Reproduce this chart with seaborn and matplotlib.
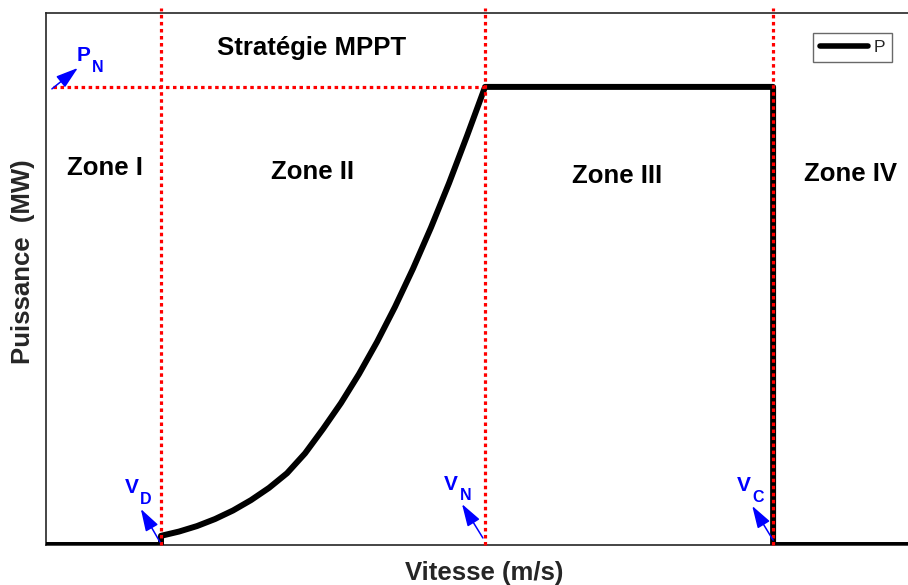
import matplotlib
matplotlib.use("Agg")
import matplotlib.pyplot as plt
import seaborn as sns
import pandas as pd

# Wind speeds (m/s) and electrical power (MW) of the turbine characteristic
v_d = 3.0    # cut-in speed
v_n = 12.0   # rated speed
v_c = 20.0   # cut-out speed
p_n = 1.5    # rated power

speed = [-0.2, 3.0, 3.0, 3.5, 4.0, 4.5, 5.0, 5.5, 6.0, 6.5, 7.0, 7.5, 8.0,
         8.5, 9.0, 9.5, 10.0, 10.5, 11.0, 11.5, 12.0, 20.0, 20.0, 24.5]
power = [0.0, 0.0, 0.03, 0.044, 0.062, 0.085, 0.113, 0.147, 0.187, 0.235,
         0.30, 0.38, 0.465, 0.56, 0.665, 0.78, 0.905, 1.04, 1.185, 1.34,
         1.50, 1.50, 0.0, 0.0]

zone_labels = ["Zone I", "Zone II", "Zone III", "Zone IV"]
zone_x = [1.44, 7.22, 15.67, 22.14]
zone_y = [1.235, 1.222, 1.209, 1.215]

sns.set_theme(style="white")
plt.rcParams["font.family"] = ["Liberation Sans", "DejaVu Sans"]

W, H = 908, 585
fig = plt.figure(figsize=(W / 100, H / 100), dpi=100)
left, right, bottom, top = 46 / W, 920 / W, 1 - 545 / H, 1 - 13 / H
ax = fig.add_axes([left, bottom, right - left, top - bottom])

df = pd.DataFrame({"Vitesse": speed, "Puissance": power})
sns.lineplot(data=df, x="Vitesse", y="Puissance", sort=False, estimator=None,
             color="black", lw=4.3, label="P", ax=ax, zorder=3,
             solid_joinstyle="round")

ax.set_xlim(-0.194, 24.08)
ax.set_ylim(0, 1.742)
ax.set_xticks([])
ax.set_yticks([])
ax.set_xlabel("")
ax.set_ylabel("")
for s in ax.spines.values():
    s.set_color("#262626")
    s.set_linewidth(1.2)

# Red dotted limits of the operating zones
dots = (0, (1.1, 1.1))
for v in (v_d, v_n, v_c):
    ax.plot([v, v], [0, 1.758], color="#ff0000", lw=2.3, ls=dots,
            clip_on=False, zorder=4)
ax.plot([0, v_n], [p_n, p_n], color="#ff0000", lw=2.3, ls=dots, zorder=4)

# Zone names and strategy
for lab, x, y in zip(zone_labels, zone_x, zone_y):
    ax.text(x, y, lab, ha="center", va="center", fontsize=18.5,
            fontweight="bold", color="black")
ax.text(7.19, 1.628, "Stratégie MPPT", ha="center", va="center",
        fontsize=18.5, fontweight="bold", color="black")

# Blue arrows pointing to the characteristic speeds and the rated power
arrow = dict(arrowstyle="-|>,head_length=0.85,head_width=0.27", color="#0000ff",
             lw=1.1, shrinkA=0, shrinkB=0, mutation_scale=16)


def mark(tail, tip, main, sub, main_off, sub_off):
    ax.annotate("", xy=tip, xytext=tail, arrowprops=arrow, zorder=5,
                annotation_clip=False)
    ax.annotate(main, xy=tip, xytext=main_off, textcoords="offset pixels",
                ha="center", va="center", fontsize=15, fontweight="bold",
                color="#0000ff")
    ax.annotate(sub, xy=tip, xytext=sub_off, textcoords="offset pixels",
                ha="center", va="center", fontsize=11.5, fontweight="bold",
                color="#0000ff")


mark((-0.03, 1.4935), (0.69, 1.562), "P", "N", (6, 12), (20, 0))
mark((2.97, 0.01), (2.44, 0.118), "V", "D", (-9, 21), (5, 9))
mark((11.94, 0.023), (11.36, 0.134), "V", "N", (-11, 20), (4, 9))
mark((20.0, 0.016), (19.42, 0.128), "V", "C", (-8, 20), (6, 8))

# Axis titles
fig.text(484 / W, 1 - 573 / H, "Vitesse (m/s)", ha="center", va="center",
         fontsize=18.5, fontweight="bold", color="#262626")
fig.text(23 / W, 1 - 262 / H, "Puissance  (MW)", ha="center", va="center",
         rotation=90, fontsize=18.5, fontweight="bold", color="#262626")

leg = ax.legend(loc="upper right", bbox_to_anchor=(892 / W, 1 - 33 / H),
                bbox_transform=fig.transFigure, fontsize=12.5, frameon=True,
                fancybox=False, handlelength=2.8, handletextpad=0.3,
                borderpad=0.4, borderaxespad=0)
leg.get_frame().set_edgecolor("#444444")
leg.get_frame().set_linewidth(1.0)
for line in leg.get_lines():
    line.set_linewidth(4.0)

fig.savefig("out.png", dpi=100)
